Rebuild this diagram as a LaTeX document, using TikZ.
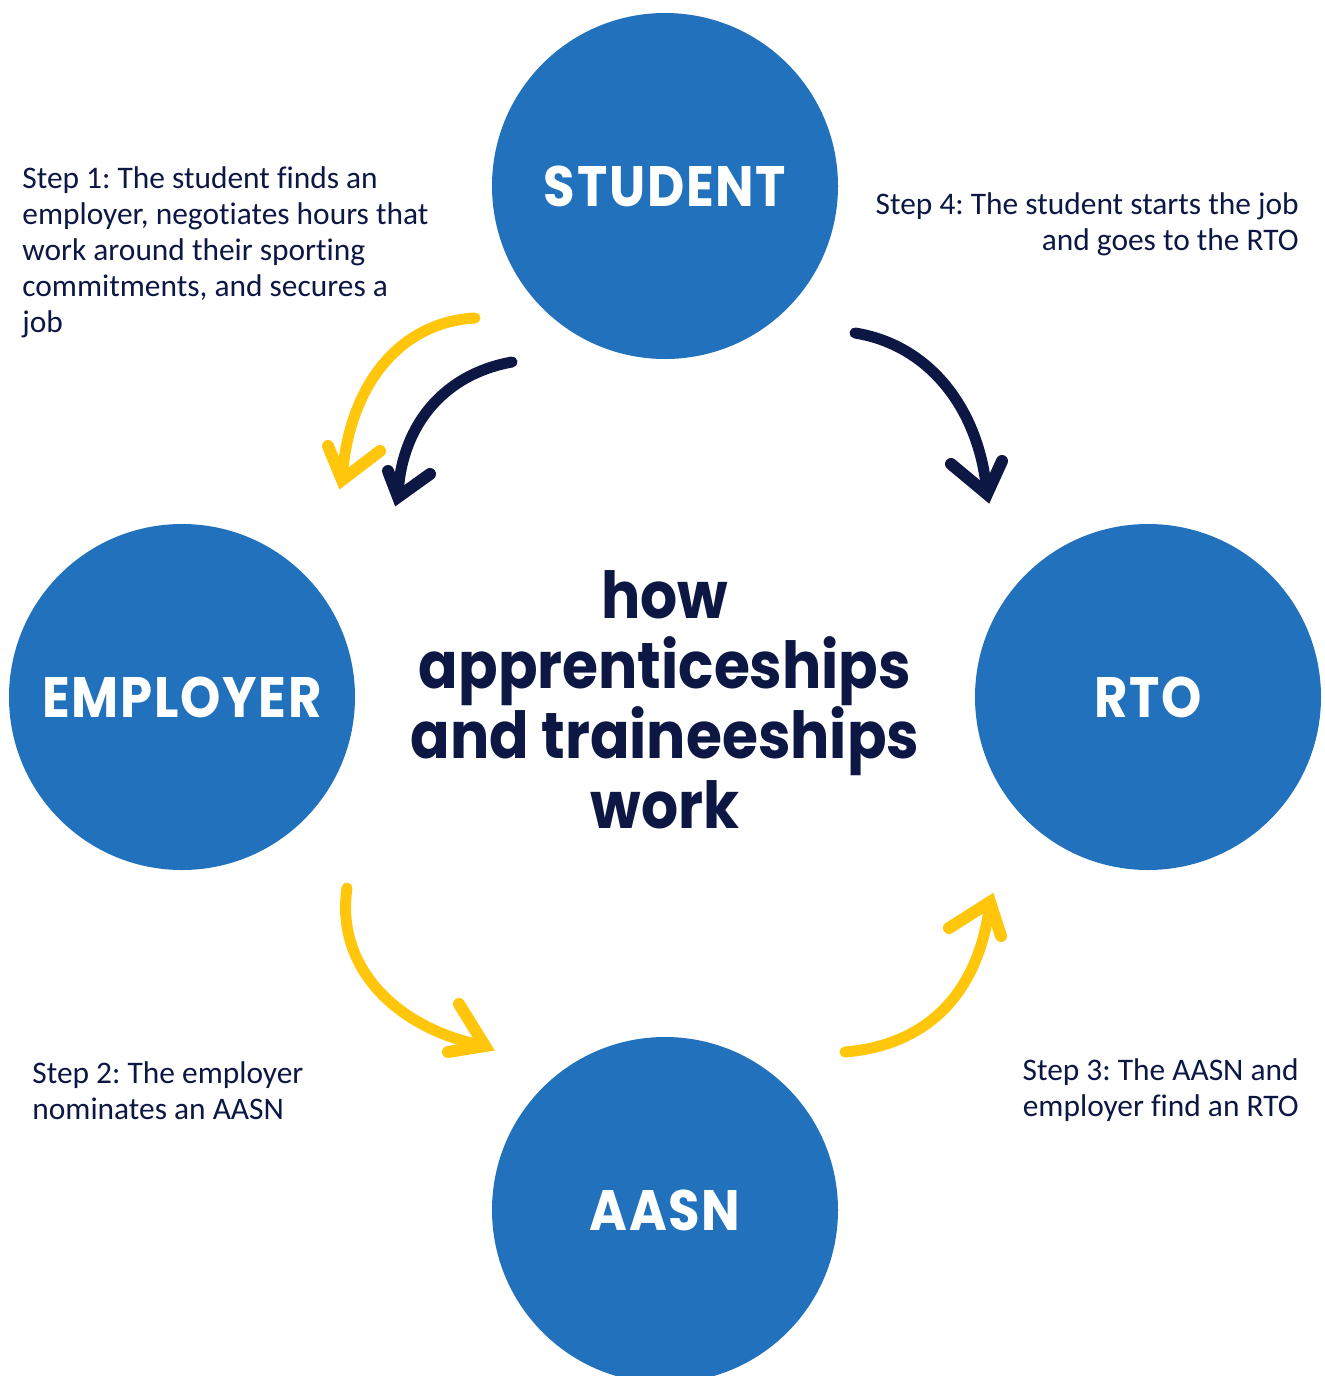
\documentclass[tikz,border=0pt]{standalone}
\usepackage{fontspec}
\setmainfont{Carlito}[Ligatures=NoCommon]
\newfontfamily\headfont{Poppins}[FakeStretch=0.9]
\newfontfamily\labelfont{Poppins}[FakeStretch=0.9,LetterSpace=3]
\definecolor{circblue}{HTML}{2171BC}
\definecolor{navy}{HTML}{0C1744}
\definecolor{gold}{HTML}{FFC60B}
\begin{document}
\frenchspacing
\begin{tikzpicture}[x=0.5pt,y=-0.5pt,
  party/.style={circle,fill=circblue,minimum size=173pt,inner sep=0pt,text=white,
    font=\labelfont\bfseries\fontsize{28.5}{30}\selectfont},
  steptext/.style={text=navy,inner sep=0pt,font=\fontsize{15.7}{18}\selectfont},
  shaft/.style={line width=5.5pt,line cap=round},
  barb/.style={line width=6pt,line cap=round},
]
\useasboundingbox (0,0) rectangle (1325,1376);
\clip (0,0) rectangle (1325,1376);

% the four parties
\node[party] (student)  at (665,186)  {STUDENT};
\node[party] (employer) at (182,697)  {EMPLOYER};
\node[party] (rto)      at (1148,697) {RTO};
\node[party] (aasn)     at (665,1210) {AASN};

% centre heading
\node[text=navy,align=center,inner sep=0pt,
  font=\headfont\bfseries\fontsize{32.4}{35}\selectfont] (title) at (665,700)
  {how\\apprenticeships\\and traineeships\\work};

% step descriptions
\node[steptext,anchor=north west,align=left] (s1) at (22,166)
  {Step 1: The student finds an\\employer, negotiates hours that\\work around their sporting\\commitments, and secures a\\job};
\node[steptext,anchor=north east,align=right] (s4) at (1299,192)
  {Step 4: The student starts the job\\and goes to the RTO};
\node[steptext,anchor=north west,align=left] (s2) at (32,1061)
  {Step 2: The employer\\nominates an AASN};
\node[steptext,anchor=north east,align=right] (s3) at (1299,1058)
  {Step 3: The AASN and\\employer find an RTO};

% hand-drawn arrows: start, tip and the two barb ends
\coordinate (y1s) at (475,318); \coordinate (y1t) at (342,480);
\coordinate (y1a) at (328,446); \coordinate (y1b) at (380,451);
\coordinate (n1s) at (512,362); \coordinate (n1t) at (398,497);
\coordinate (n1a) at (388,471); \coordinate (n1b) at (430,474);
\coordinate (n2s) at (855,333); \coordinate (n2t) at (987,494);
\coordinate (n2a) at (951,464); \coordinate (n2b) at (1002,461);
\coordinate (y2s) at (347,888); \coordinate (y2t) at (485,1046);
\coordinate (y2a) at (459,1004); \coordinate (y2b) at (448,1052);
\coordinate (y3s) at (845,1052); \coordinate (y3t) at (990,902);
\coordinate (y3a) at (949,928); \coordinate (y3b) at (1001,936);

\draw[shaft,gold] (y1s) .. controls (400,322) and (348,385) .. (y1t);
\draw[barb,gold] (y1a) -- (y1t) -- (y1b);
\draw[shaft,navy] (n1s) .. controls (440,375) and (400,430) .. (n1t);
\draw[barb,navy] (n1a) -- (n1t) -- (n1b);
\draw[shaft,navy] (n2s) .. controls (930,345) and (980,410) .. (n2t);
\draw[barb,navy] (n2a) -- (n2t) -- (n2b);
\draw[shaft,gold] (y2s) .. controls (335,970) and (400,1030) .. (y2t);
\draw[barb,gold] (y2a) -- (y2t) -- (y2b);
\draw[shaft,gold] (y3s) .. controls (930,1045) and (980,990) .. (y3t);
\draw[barb,gold] (y3a) -- (y3t) -- (y3b);
\end{tikzpicture}
\end{document}
